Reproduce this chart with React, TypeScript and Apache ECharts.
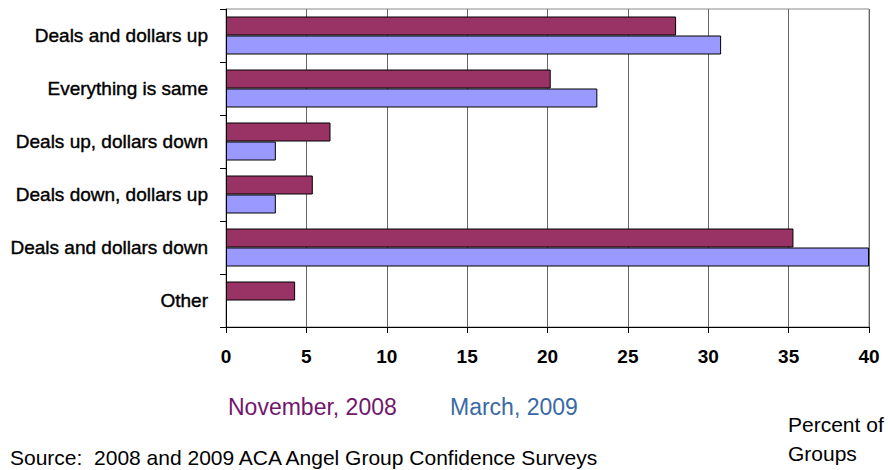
import React, { useEffect, useRef } from "react";
import * as echarts from "echarts";

const categories = [
  "Deals and dollars up",
  "Everything is same",
  "Deals up, dollars down",
  "Deals down, dollars up",
  "Deals and dollars down",
  "Other",
];
const nov2008 = [28.0, 20.2, 6.5, 5.4, 35.3, 4.3];
const mar2009 = [30.8, 23.1, 3.1, 3.1, 40.0, null];
const xTicks = { min: 0, max: 40, interval: 5 };

const SANS = "'Liberation Sans', Arial, sans-serif";

export default function App() {
  const ref = useRef<HTMLDivElement>(null);
  useEffect(() => {
    if (!ref.current) return;
    const chart = echarts.init(ref.current, undefined, { renderer: "svg" });
    chart.setOption({
      animation: false,
      backgroundColor: "#ffffff",
      grid: {
        left: 226,
        right: 19,
        top: 9,
        bottom: 143,
        show: true,
        borderColor: "#8a8a8a",
        borderWidth: 1,
        containLabel: false,
      },
      xAxis: {
        type: "value",
        min: xTicks.min,
        max: xTicks.max,
        interval: xTicks.interval,
        axisLine: { show: true, lineStyle: { color: "#000", width: 1 } },
        axisTick: { show: true, inside: false, length: 6, lineStyle: { color: "#000" } },
        splitLine: { show: true, lineStyle: { color: "#666", width: 1 } },
        axisLabel: {
          color: "#000",
          fontFamily: SANS,
          fontWeight: "bold",
          fontSize: 19,
          margin: 20,
        },
      },
      yAxis: {
        type: "category",
        data: categories,
        inverse: true,
        axisLine: { show: true, lineStyle: { color: "#000", width: 1 } },
        axisTick: { show: true, length: 6, lineStyle: { color: "#000" } },
        axisLabel: {
          color: "#000",
          fontFamily: SANS,
          fontWeight: "normal",
          fontSize: 19,
          textBorderColor: "#000",
          textBorderWidth: 0.4,
          margin: 18,
        },
      },
      series: [
        {
          name: "November, 2008",
          type: "bar",
          data: nov2008,
          barWidth: 19,
          barGap: "0%",
          itemStyle: { color: "#993366", borderColor: "#000", borderWidth: 1 },
        },
        {
          name: "March, 2009",
          type: "bar",
          data: mar2009,
          barWidth: 19,
          barGap: "0%",
          itemStyle: { color: "#9999ff", borderColor: "#000", borderWidth: 1 },
        },
      ],
      graphic: [
        {
          type: "text",
          left: 228,
          top: 395,
          style: { text: "November, 2008", fill: "#72166e", font: `23px ${SANS}` },
        },
        {
          type: "text",
          left: 450,
          top: 395,
          style: { text: "March, 2009", fill: "#3a6aa6", font: `23px ${SANS}` },
        },
        {
          type: "text",
          left: 788,
          top: 414,
          style: { text: "Percent of", fill: "#000", font: `21px ${SANS}` },
        },
        {
          type: "text",
          left: 788,
          top: 443,
          style: { text: "Groups", fill: "#000", font: `21px ${SANS}` },
        },
        {
          type: "text",
          left: 10,
          top: 447,
          style: {
            text: "Source:  2008 and 2009 ACA Angel Group Confidence Surveys",
            fill: "#000",
            font: `21px ${SANS}`,
          },
        },
      ],
    });
    return () => chart.dispose();
  }, []);
  return <div ref={ref} style={{ width: 888, height: 470, position: "absolute", left: 0, top: 0 }} />;
}
